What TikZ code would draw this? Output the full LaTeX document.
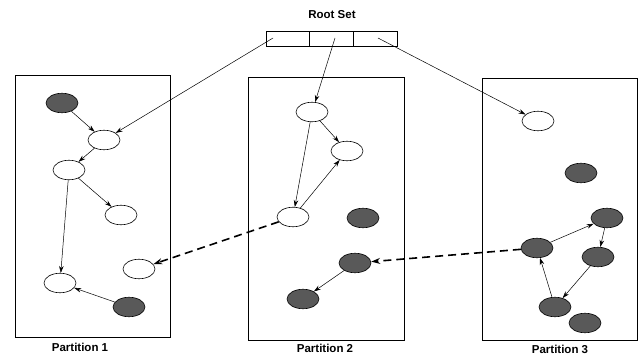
\documentclass[tikz,border=0pt]{standalone}
\usepackage{fontspec}
\setmainfont{Liberation Sans}
\usetikzlibrary{shapes.geometric,arrows.meta}
\begin{document}
\begin{tikzpicture}[x=1pt,y=-1pt,
  obj/.style={ellipse,draw=black,line width=0.6pt,minimum width=32pt,minimum height=19.5pt,inner sep=0pt},
  wobj/.style={obj,fill=white},
  sobj/.style={obj,fill=black!65},
  part/.style={draw=black,line width=0.6pt},
  lbl/.style={font=\fontsize{11.5}{13}\selectfont\bfseries},
  ptr/.style={line width=0.5pt,-{Stealth[length=7pt,width=4.5pt]}},
  xptr/.style={line width=1.6pt,dash pattern=on 8pt off 5pt,-{Stealth[length=9pt,width=6pt]}},
  cell/.style={draw=black,line width=0.6pt,minimum width=43.67pt,minimum height=15pt,inner sep=0pt}
]
\useasboundingbox (0,0) rectangle (640,356);
% partitions
\draw[part] (15,75) rectangle (170,337);
\draw[part] (248,77) rectangle (404,340);
\draw[part] (482,78) rectangle (637,340);
\node[lbl] (p1) at (80,347) {Partition 1};
\node[lbl] (p2) at (325,348) {Partition 2};
\node[lbl] (p3) at (560,349) {Partition 3};
% root set
\node[lbl] (rs) at (332,15) {Root Set};
\node[cell] (c1) at (287.8,38.5) {};
\node[cell] (c2) at (331.5,38.5) {};
\node[cell] (c3) at (375.2,38.5) {};
\coordinate (r1) at (273,38);
\coordinate (r2) at (335,38);
\coordinate (r3) at (378,38);
% partition 1
\node[sobj] (a0) at (62,103) {};
\node[wobj] (a1) at (104,140) {};
\node[wobj] (a2) at (69,170) {};
\node[wobj] (a3) at (121,215) {};
\node[wobj] (a4) at (139,269) {};
\node[wobj] (a5) at (60,283) {};
\node[sobj] (a6) at (129,307) {};
% partition 2
\node[wobj] (b1) at (312,112) {};
\node[wobj] (b2) at (347,151) {};
\node[wobj] (b3) at (293,217) {};
\node[sobj] (b4) at (363,218) {};
\node[sobj] (b5) at (355,263) {};
\node[sobj] (b6) at (303,299) {};
% partition 3
\node[wobj] (d1) at (538,121) {};
\node[sobj] (d2) at (581,173) {};
\node[sobj] (d3) at (607,218) {};
\node[sobj] (d4) at (537,248) {};
\node[sobj] (d5) at (598,257) {};
\node[sobj] (d6) at (555,307) {};
\node[sobj] (d7) at (585,323) {};
% edges
\draw[ptr] (r1) -- (a1);
\draw[ptr] (r2) -- (b1);
\draw[ptr] (r3) -- (d1);
\draw[ptr] (a0) -- (a1);
\draw[ptr] (a1) -- (a2);
\draw[ptr] (a2) -- (a3);
\draw[ptr] (a2) -- (a5);
\draw[ptr] (a6) -- (a5);
\draw[ptr] (b1) -- (b2);
\draw[ptr] (b1) -- (b3);
\draw[ptr] (b3) -- (b2);
\draw[ptr] (b5) -- (b6);
\draw[ptr] (d4) -- (d3);
\draw[ptr] (d3) -- (d5);
\draw[ptr] (d5) -- (d6);
\draw[ptr] (d6) -- (d4);
\draw[xptr] (b3) -- (a4);
\draw[xptr] (d4) -- (b5);
\end{tikzpicture}
\end{document}
